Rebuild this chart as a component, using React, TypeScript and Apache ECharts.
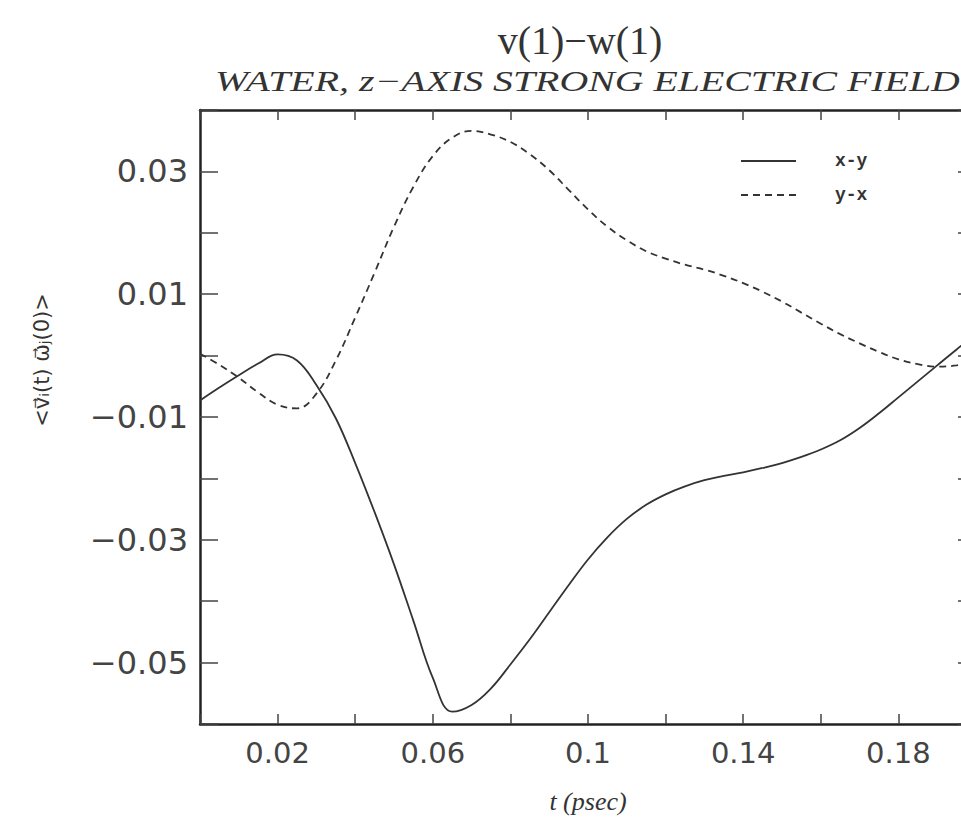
import React, { useEffect, useRef } from "react";
import * as echarts from "echarts";

// time samples (psec)
const tValues = [
  0, 0.005, 0.01, 0.015, 0.02, 0.025, 0.03, 0.035, 0.04, 0.045, 0.05, 0.055, 0.06,
  0.065, 0.07, 0.075, 0.08, 0.085, 0.09, 0.095, 0.1, 0.105, 0.11, 0.115, 0.12, 0.125,
  0.13, 0.135, 0.14, 0.145, 0.15, 0.155, 0.16, 0.165, 0.17, 0.175, 0.18, 0.185, 0.19,
  0.195, 0.2,
];

// x-y cross correlation
const xyValues = [
  -0.0073, -0.0052, -0.0032, -0.0013, 0.0002, -0.0008, -0.0048, -0.0102, -0.0175,
  -0.0255, -0.034, -0.0432, -0.0525, -0.058, -0.0569, -0.0542, -0.0503, -0.0462, -0.0418,
  -0.0374, -0.0332, -0.0296, -0.0266, -0.0243, -0.0226, -0.0213, -0.0203, -0.0196, -0.019,
  -0.0183, -0.0175, -0.0165, -0.0153, -0.0138, -0.0118, -0.0094, -0.0068, -0.0042, -0.0016,
  0.001, 0.0035,
];

// y-x cross correlation
const yxValues = [
  0.0003, -0.0015, -0.0036, -0.006, -0.008, -0.0086, -0.0062, -0.0008, 0.0062, 0.0135,
  0.021, 0.0275, 0.0325, 0.0355, 0.0366, 0.036, 0.0348, 0.0328, 0.0302, 0.027, 0.0238,
  0.021, 0.0188, 0.017, 0.0158, 0.0148, 0.014, 0.013, 0.0118, 0.0104, 0.0088, 0.007,
  0.0052, 0.0035, 0.002, 0.0006, -0.0006, -0.0014, -0.0018, -0.0016, -0.001,
];

const seriesNames = ["x-y", "y-x"];
const titleText = "v(1)\u2212w(1)";
const subtitleText = "WATER, z\u2212AXIS STRONG ELECTRIC FIELD";
const xAxisName = "t (psec)";
const yAxisName = "<v\u20D7\u1D62(t) \u03C9\u20D7\u2C7C(0)>";

const INK = "#333";
const SUBTITLE_FONT = "italic 29px 'Liberation Serif', serif";

const fmt = (v: number, step: number) => {
  const k = Math.round(v / step);
  if (Math.abs(k) % 2 !== 1) return "";
  const s = String(+v.toFixed(3));
  return s.startsWith("-") ? "\u2212" + s.slice(1) : s;
};

// stretch factor so a string fills a given width
const stretchTo = (text: string, font: string, width: number) => {
  const ctx = document.createElement("canvas").getContext("2d");
  if (!ctx) return 1;
  ctx.font = font;
  const w = ctx.measureText(text).width;
  return w > 0 ? width / w : 1;
};

export default function App() {
  const ref = useRef<HTMLDivElement>(null);

  useEffect(() => {
    if (!ref.current) return;
    const chart = echarts.init(ref.current, undefined, { renderer: "svg" });
    const pairs = (ys: number[]) => tValues.map((t, i) => [t, ys[i]]);
    const subScale = stretchTo(subtitleText, SUBTITLE_FONT, 745);

    const frameAxis = { show: true, onZero: false, lineStyle: { color: "#222", width: 2.5 } };

    chart.setOption({
      animation: false,
      backgroundColor: "#fff",
      graphic: [
        {
          type: "text",
          x: 580,
          y: 40,
          style: {
            text: titleText,
            font: "40px 'Liberation Serif', serif",
            fill: INK,
            align: "center",
            verticalAlign: "middle",
          },
        },
        {
          type: "text",
          x: 215,
          y: 81,
          scaleX: subScale,
          style: {
            text: subtitleText,
            font: SUBTITLE_FONT,
            fill: INK,
            align: "left",
            verticalAlign: "middle",
          },
        },
        {
          type: "text",
          x: 42,
          y: 360,
          rotation: Math.PI / 2,
          style: {
            text: yAxisName,
            font: "21px 'DejaVu Sans', sans-serif",
            fill: INK,
            align: "center",
            verticalAlign: "middle",
          },
        },
      ],
      legend: {
        orient: "vertical",
        left: 735,
        top: 147,
        itemWidth: 55,
        itemHeight: 14,
        itemGap: 16,
        data: seriesNames,
        itemStyle: { color: "transparent", borderWidth: 0, opacity: 0 },
        textStyle: {
          fontFamily: "'Liberation Mono', monospace",
          fontWeight: "bold",
          fontSize: 18,
          color: INK,
          padding: [0, 0, 0, 34],
        },
      },
      grid: { left: 200, top: 110, width: 776, height: 620, containLabel: false },
      xAxis: [
        {
          type: "value",
          min: 0,
          max: 0.2,
          interval: 0.02,
          position: "bottom",
          name: xAxisName,
          nameLocation: "middle",
          nameGap: 64,
          nameTextStyle: {
            fontFamily: "'Liberation Serif', serif",
            fontStyle: "italic",
            fontSize: 26,
            color: INK,
          },
          axisLine: frameAxis,
          axisTick: { show: true, inside: true, length: 10, lineStyle: { color: "#444", width: 1.5 } },
          axisLabel: {
            formatter: (v: number) => fmt(v, 0.02),
            fontFamily: "'DejaVu Sans', sans-serif",
            fontSize: 29,
            color: "#444",
            margin: 14,
          },
          splitLine: { show: false },
        },
        {
          type: "value",
          min: 0,
          max: 0.2,
          interval: 0.02,
          position: "top",
          axisLine: frameAxis,
          axisTick: { show: true, inside: true, length: 10, lineStyle: { color: "#444", width: 1.5 } },
          axisLabel: { show: false },
          splitLine: { show: false },
        },
      ],
      yAxis: [
        {
          type: "value",
          min: -0.06,
          max: 0.04,
          interval: 0.01,
          position: "left",
          axisLine: frameAxis,
          axisTick: { show: true, inside: true, length: 18, lineStyle: { color: "#444", width: 1.5 } },
          axisLabel: {
            formatter: (v: number) => fmt(v, 0.01),
            fontFamily: "'DejaVu Sans', sans-serif",
            fontSize: 32,
            color: "#444",
            margin: 12,
          },
          splitLine: { show: false },
        },
        {
          type: "value",
          min: -0.06,
          max: 0.04,
          interval: 0.01,
          position: "right",
          axisLine: frameAxis,
          axisTick: { show: true, inside: true, length: 18, lineStyle: { color: "#444", width: 1.5 } },
          axisLabel: { show: false },
          splitLine: { show: false },
        },
      ],
      series: [
        {
          name: seriesNames[0],
          type: "line",
          data: pairs(xyValues),
          smooth: 0.4,
          symbol: "none",
          lineStyle: { color: INK, width: 1.8, type: "solid" },
          itemStyle: { color: INK },
        },
        {
          name: seriesNames[1],
          type: "line",
          data: pairs(yxValues),
          smooth: 0.4,
          symbol: "none",
          lineStyle: { color: INK, width: 1.8, type: [7, 5] },
          itemStyle: { color: INK },
        },
      ],
    });

    return () => chart.dispose();
  }, []);

  return (
    <div
      style={{
        position: "fixed",
        left: 0,
        top: 0,
        width: 961,
        height: 819,
        overflow: "hidden",
        background: "#fff",
      }}
    >
      <div ref={ref} style={{ width: 1000, height: 819 }} />
    </div>
  );
}
